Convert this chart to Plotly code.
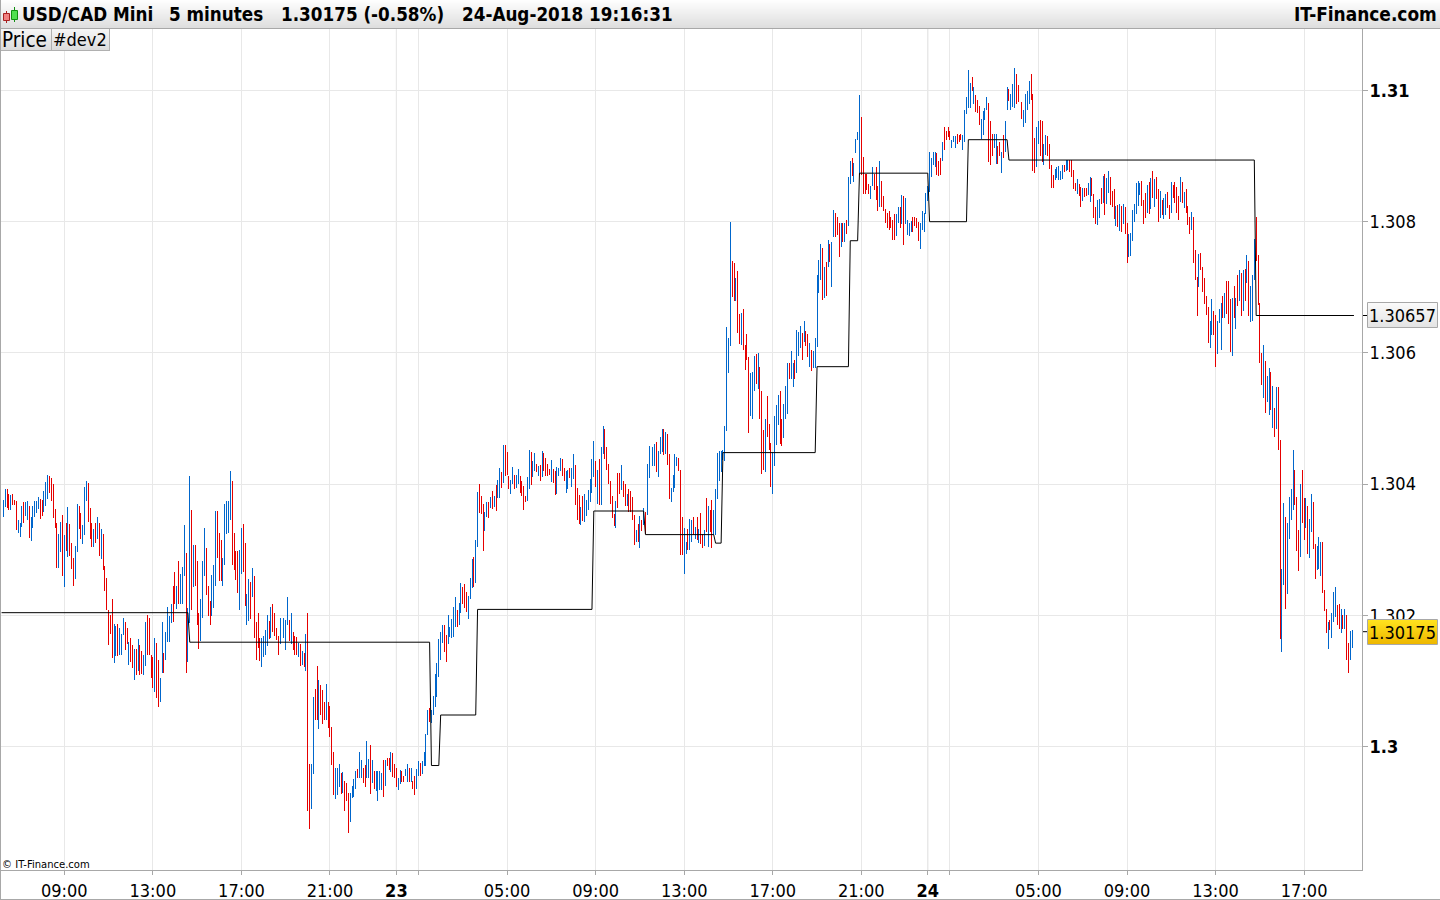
import numpy as np
import pandas as pd
import plotly.graph_objects as go

# USD/CAD 5-minute bars, expressed in points (1/100000) relative to 1.30000
BASE_PRICE = 1.30
POINT = 0.00001
FIRST_BAR = "2018-08-22 06:15"

HIGH_PTS = [
 376,392,392,385,383,385,376,374,346,340, 366,373,372,374,366,350,366,374,374,380,
 378,376,389,403,414,412,409,400,362,340, 324,342,353,322,340,365,339,310,287,306,
 370,366,356,338,395,405,402,363,340,331,
 340,350,340,331,324,275,257,208,200,225, 187,183,187,181,172,196,190,180,159,165,155,
 149,149,164,155,146,139,190,200,196,139,136, 165,158,132,104,190,142,175,212,199,217,
 245,266,245,283,263,273,338,295,211,412, 360,307,307,283,203,225,283,333,303,245,
 222,261,277,359,359,325,315,287,370,375, 375,420,405,325,298,298,300,
 333,339,310,232,255,251,272,260,190,203, 166,165,168,177,200,191,213,217,203,181,
 168,196,196,196,193,228,193,203,174,168, 167,158,156,145,142,171,203,
 -26,-27,76,88,123,101,94,86,68,95, 68,61,30,-8,-33,-33,-27,-40,-39,-53,
 -56,-71,-71,-60,-50,-37,-34,-8,-20,-33, -28,8,-19,2,-20,-37,-37,-37,-37,-40,
 -20,-20,-17,-17,-8,-10,-27,-33,-48,-36, -37,-45,-34,-27,-33,-33,-53,-45,-34,-22,
 -25,-22,-8,19,55,59,56,77,110,127, 164,175,185,185,170,200,182,
 195,212,228,208,218,250,243,247,235,229, 257,286,289,315,388,400,382,369,357,372,
 372,380,389,382,398,406,
 424,418,459,459,449,412,406,426,414,414, 423,412,405,397,382,411,452,449,435,447,
 430,427,429,450,447,440,430,423,437,423, 420,426,424,440,438,424,420,421,424,424,
 446,429,394,383,365,382,385,376,391,408, 438,466,435,421,438,456,488,484,456,430,
 405,382,354,374,417,417,429,405,400,385, 392,389,380,353,330,339,351,345,363,357,
 430,458,458,456,461,464,450,472,484,484, 479,476,446,394,414,446,441,440,421,350,
 333,311,331,347,345,350,335,350,332,356, 324,330,379,366,360,376,360,392,447,450,
 450,
 452,488,639,622,799,740,737,714,725,659, 661,667,612,629,594,569,571,595,598,600,
 578,542,482,500,534,491,462,449,504,520, 536,542,499,522,549,584,584,603,584,589,
 635,632,641,630,648,633,629,615,604,603, 622,718,741,766,760,731,738,772,766,769,
 818,
 814,807,798,798,798,798,803,868,892,897, 890,926,936,993,959,898,872,872,857,855,
 884,872,884,854,892,862,839,820,814,816, 807,802,811,811,823,823,840,839,836,803,
 798,801,807,807,805,799,798,816,814,843, 854,906,897,907,906,904,892,897,921,944,
 938,944,938,924,930,930,933,932,934,932, 971,990,1032,1011,1020,1005,993,985,977,956,
 968,974,990,981,953,933,933,933,915,921, 906,932,953,1006,1003,994,1010,1035,1025,1009,
 997,982,970,995,999,1015,1025,994,927,945, 953,955,953,918,932,930,918,887,871,881,
 884,
 885,877,886,886,894,894,894,894,879,859, 865,858,853,851,851,851,859,868,867,842,
 822,833,835,851,870,873,867,877,868,847, 850,824,826,827,824,827,822,798,781,783,
 818,827,859,862,859,862,833,844,856,861, 867,877,865,868,850,847,833,836,842,845,
 826,861,856,861,853,839,868,861,845,850, 824,807,815,807,757,716,751,752,731,714,
 687,670,649,682,664,658,649,667,676,687, 691,710,710,682,684,702,684,719,726,722,
 726,728,749,740,
 702,719,773,807,749,676,600,612,588,565, 577,571,549,516,548,548,
 467,270,371,350,340,380,392,452,421,380, 330,400,421,379,379,366,347,385,372,308,
 305,319,312,312,238,209,190,193,203,235, 243,215,217,209,200,209,200,158,176,177,
]

LOW_PTS = [
 350,365,364,360,360,368,368,330,326,320, 335,340,351,345,318,314,333,350,356,362,
 347,351,357,366,377,386,375,348,333,272, 272,296,260,243,298,289,290,270,245,255,
 296,332,316,309,322,374,342,316,304,304,
 310,316,290,286,269,237,208,155,172,135, 127,138,138,140,140,170,147,157,124,129,120,
 101,109,115,109,111,109,122,140,140,104,89, 83,74,60,68,112,112,132,159,159,188,
 190,217,209,217,217,217,260,112,129,188, 208,243,245,185,148,161,196,260,231,199,
 185,199,211,245,287,252,252,245,277,324, 325,345,277,269,254,234,208,
 263,266,214,185,191,194,228,165,132,150, 130,121,136,139,153,164,166,174,168,162,
 139,156,182,166,147,185,161,156,147,139, 139,136,123,124,121,115,-98,
 -126,-95,-42,40,40,27,48,34,40,40, 28,14,-28,-74,-80,-74,-61,-72,-71,-98,
 -83,-132,-115,-78,-77,-65,-48,-48,-48,-56, -62,-48,-48,-72,-56,-65,-68,-83,-66,-66,
 -77,-60,-30,-36,-39,-46,-48,-62,-66,-57, -54,-54,-45,-54,-54,-54,-65,-74,-65,-45,
 -45,-42,-30,-30,17,37,36,48,60,75, 106,132,158,144,129,156,167,
 166,167,182,182,185,203,217,211,205,194, 225,241,243,250,304,356,355,298,328,350,
 348,363,362,365,359,379,
 379,394,402,412,414,392,385,400,392,394, 400,386,382,360,373,374,392,398,411,420,
 418,412,405,411,420,412,412,414,403,402, 383,385,412,420,412,405,386,392,409,395,
 408,368,345,339,338,344,342,351,360,373, 386,411,395,370,368,368,446,438,421,400,
 370,348,336,333,363,385,391,380,366,366, 357,357,345,307,312,312,302,328,338,324,
 353,409,426,427,427,418,411,446,449,444, 446,429,377,373,388,394,427,420,292,292,
 263,293,299,299,312,322,316,315,310,309, 302,305,327,304,327,302,322,322,377,405,
 418,
 437,435,481,569,610,685,679,679,630,613, 612,604,574,589,478,504,500,542,552,545,
 499,415,421,418,472,452,395,385,427,459, 490,461,458,470,500,507,560,560,548,560,
 569,595,607,589,616,610,594,578,572,577, 577,609,691,711,680,683,686,731,738,700,
 776,
 777,779,746,762,769,769,782,793,857,869, 860,904,924,871,871,842,842,848,842,834,
 854,848,833,816,823,822,816,798,790,787, 790,772,772,778,798,790,796,764,796,780,
 778,785,785,793,790,770,759,787,785,811, 831,845,868,886,884,871,869,871,892,909,
 924,929,924,912,921,913,918,921,924,910, 921,964,973,973,999,979,967,965,947,926,
 932,955,970,891,886,900,912,888,888,900, 875,897,907,971,984,971,975,974,980,982,
 968,956,945,950,970,979,985,878,875,883, 918,900,891,886,901,900,881,851,851,863,
 866,
 864,864,865,876,877,879,876,868,850,847, 842,839,822,832,838,839,841,830,839,806,
 797,795,806,827,829,810,827,844,826,822, 804,793,792,786,784,797,781,737,746,748,
 771,800,812,824,841,824,797,806,813,812, 819,836,822,835,800,806,810,804,810,821,
 804,813,836,829,813,803,830,829,821,813, 795,781,787,737,711,656,701,726,693,675,
 658,615,608,627,627,579,599,646,604,653, 653,659,644,601,595,653,636,672,679,656,
 664,679,707,656,
 647,649,711,740,673,584,551,531,508,525, 505,513,486,472,484,452,
 164,144,246,209,232,316,345,360,368,298, 267,289,340,315,333,293,287,327,301,255,
 269,270,260,234,206,173,148,177,165,190, 197,185,179,173,179,179,132,112,132,150,
]

# b = rising bar, r = falling bar
DIRECTION = (
 "bbrrbrrrbb" "brbbrbbbbb" "rrbbbrrrrr" "bbrbrbrrrb" "brrbbbrrrb"
 "rbrbrrrrrr" "bbrbbbrrbrr" "brbrrbbrrrr" "brrbbrbbbb" "rrbrbbbrbb" "rbrrrbbbrr" "rbbbrrrbbb" "bbrrrrb"
 "brrbbrbrrr" "rbbbbrbrrr" "rbbbbbrbrr" "rbrbrbr" "rbbrrbrrrb" "rrrrbbbrbr" "rrbbbbrbbr" "rbbrbrbbbb"
 "rbrrbrrrbb" "rrbbrbrrbb" "rbbbbrbbbb" "bbbrrbb" "bbbrbbrrrb" "bbrbbrrrbb" "rbrbrb"
 "brbrrrbbrb" "brrrrbbrbb" "rbrbrrrrbr" "rbbbrrbbrb"
 "brrrbrbbbb" "bbrbrbbrrr" "rrrbrrbrrb" "rrrrbrbrbr"
 "bbrbbrbbbr" "brrbbbbrrr" "bbrbbrbrbr" "rbrbrrbbbb" "b"
 "bbbbbrrbrr" "brrrrbbbrb" "rrrbrrrbbb" "brrbbbrbbr" "bbbrbrrbrb" "bbbbrbrbrb" "b"
 "rrrbrbrbbr" "bbbbrrrrrb" "brrrbrrrrr" "rrrbbrbrbb" "bbrrrrbbbb" "bbbbbrrrbr"
 "rrrbbbrrrb" "bbbbrbrrrb" "bbbrrrbbrr" "brbbrbbbrr" "rrbbbbrrrb" "brrbbrrrrb"
 "b"
 "bbbrbbrrrr" "brrbrrbbrr" "rbbrbrbbrr" "rbrbrbrrbb" "bbbbbrrrbr" "brbrrbrbbr"
 "rbrrrrbrbr" "rrbrrrbrrr" "rrbbrrbbbr" "brrrbrbrbr" "brbr"
 "bbbrrrrbrb" "brbrbr"
 "rbbrbbbbrr" "rbrrbrbbrr" "bbbrrrbrbb" "brrbrbrrbb"
)

TICK_TIMES = ["2018-08-22 09:00", "2018-08-22 13:00", "2018-08-22 17:00", "2018-08-22 21:00",
              "2018-08-23 00:00", "2018-08-23 01:00", "2018-08-23 05:00", "2018-08-23 09:00",
              "2018-08-23 13:00", "2018-08-23 17:00", "2018-08-23 21:00", "2018-08-24 00:00",
              "2018-08-24 01:00", "2018-08-24 05:00", "2018-08-24 09:00", "2018-08-24 13:00",
              "2018-08-24 17:00"]
TICK_TEXT = ["09:00", "13:00", "17:00", "21:00", "<b>23</b>", "", "05:00", "09:00", "13:00", "17:00",
             "21:00", "<b>24</b>", "", "05:00", "09:00", "13:00", "17:00"]
DAY_TIMES = ["2018-08-23 00:00", "2018-08-24 00:00"]

PRICE_TICKS = [1.30, 1.302, 1.304, 1.306, 1.308, 1.31]
PRICE_TEXT = ["<b>1.3</b>", "1.302", "1.304", "1.306", "1.308", "<b>1.31</b>"]

# #dev2 level (points relative to 1.30000) and the bar at which it starts
DEV2_LEVEL = [204, 159, -29, 48, 209, 359, 323, 310, 448, 579, 771, 874, 800, 925, 894, 657]
DEV2_START = [0, 101, 232, 237, 257, 320, 348, 386, 390, 441, 459, 464, 502, 523, 545, 679]

LAST_PRICE = 1.30175
DEV2_LAST = 1.30657

n = len(HIGH_PTS)
assert n == len(LOW_PTS) == len(DIRECTION), (n, len(LOW_PTS), len(DIRECTION))

bar = pd.Timedelta(minutes=5)
times = pd.date_range(FIRST_BAR, periods=n, freq="5min")
high = BASE_PRICE + np.array(HIGH_PTS) * POINT
low = BASE_PRICE + np.array(LOW_PTS) * POINT
colors = ["#0066cc" if d == "b" else "#e60000" for d in DIRECTION]

lengths = np.diff(DEV2_START + [n])
dev2 = BASE_PRICE + np.repeat(DEV2_LEVEL, lengths) * POINT
# the #dev2 line begins one bar earlier and ends one bar later than the price bars
dev2_times = [times[0] - bar] + list(times) + [times[-1] + bar]
dev2_values = [dev2[0]] + list(dev2) + [dev2[-1]]

W, H = 1440, 900
PX_PER_BAR = 1.845
X0 = 3.4
PLOT_R, PLOT_T, PLOT_B = 1362, 29, 870
PX_PER_PRICE = 65600.0
Y_130 = 746.5


def xp(px):
    return px / W


def yp(py):
    return 1 - py / H


x_lo = pd.Timestamp(FIRST_BAR) + bar * ((0 - X0) / PX_PER_BAR)
x_hi = pd.Timestamp(FIRST_BAR) + bar * ((PLOT_R - X0) / PX_PER_BAR)
y_hi = 1.30 + (Y_130 - PLOT_T) / PX_PER_PRICE
y_lo = 1.30 - (PLOT_B - Y_130) / PX_PER_PRICE

fig = go.Figure()
fig.add_trace(go.Bar(x=times, base=low, y=high - low, width=bar.total_seconds() * 1000 * 0.54,
                     marker=dict(color=colors, line=dict(width=0)), hoverinfo="skip"))
fig.add_trace(go.Scatter(x=dev2_times, y=dev2_values, mode="lines",
                         line=dict(color="#000000", width=1), hoverinfo="skip"))

shapes = []


def rect(x0, y0, x1, y1, fill, line=None, layer="above"):
    shapes.append(dict(type="rect", xref="paper", yref="paper", x0=xp(x0), x1=xp(x1), y0=yp(y0), y1=yp(y1),
                       fillcolor=fill, line=dict(color=line or fill, width=1 if line else 0), layer=layer))


def hline(x0, x1, y, color):
    shapes.append(dict(type="line", xref="paper", yref="paper", x0=xp(x0), x1=xp(x1), y0=yp(y), y1=yp(y),
                       line=dict(color=color, width=1)))


def vline(x, y0, y1, color):
    shapes.append(dict(type="line", xref="paper", yref="paper", x0=xp(x), x1=xp(x), y0=yp(y0), y1=yp(y1),
                       line=dict(color=color, width=1)))


def gradient(x0, y0, x1, y1, top, bottom):
    rows = int(y1 - y0)
    for k in range(rows):
        f = k / max(rows - 1, 1)
        c = [round(a + (b - a) * f) for a, b in zip(top, bottom)]
        rect(x0, y0 + k, x1, y0 + k + 1, "rgb(%d,%d,%d)" % tuple(c))


# header bar
gradient(0, 0, W, 28, (254, 254, 254), (222, 222, 222))
hline(0, W, 28.5, "#a8a8a8")
# header icon
vline(6.5, 11, 23, "#a82020")
rect(3.5, 13.5, 9.5, 20.5, "#f08080", "#a82020")
vline(14.5, 7, 22, "#109010")
rect(11.5, 10.5, 17.5, 19.5, "#50e050", "#109010")
# indicator buttons
gradient(1, 29, 109, 50, (246, 246, 246), (220, 220, 220))
vline(51.5, 29, 50, "#b0b0b0")
vline(109.5, 29, 50, "#b0b0b0")
hline(1, 110, 50.5, "#b0b0b0")
# frame
vline(0.5, 0, H, "#a8a8a8")
hline(0, W, 899.5, "#a8a8a8")
# darker reference lines inside the plot
for t in DAY_TIMES:
    shapes.append(dict(type="line", xref="x", yref="paper", x0=t, x1=t, y0=yp(PLOT_B), y1=yp(PLOT_T),
                       line=dict(color="#d2d2d2", width=1), layer="below"))
for v in (1.30, 1.31):
    shapes.append(dict(type="line", xref="paper", yref="y", x0=0, x1=xp(PLOT_R), y0=v, y1=v,
                       line=dict(color="#d6d6d6", width=1), layer="below"))
# price boxes
gradient(1367.5, 303, 1437.5, 327, (250, 250, 250), (228, 228, 228))
rect(1367.5, 302.5, 1437.5, 327.5, "rgba(0,0,0,0)", "#a8a8a8")
gradient(1367.5, 620, 1437.5, 644, (255, 226, 30), (238, 184, 0))
rect(1367.5, 619.5, 1437.5, 644.5, "rgba(0,0,0,0)", "#a8a8a8")
for v in (DEV2_LAST, LAST_PRICE):
    shapes.append(dict(type="line", xref="paper", yref="y", x0=xp(PLOT_R + 1), x1=xp(1367), y0=v, y1=v,
                       line=dict(color="#000000", width=1)))

FONT = "DejaVu Sans Condensed, DejaVu Sans"
ann = []


def text(px, py, s, size=18, anchor="left", color="#000000", yref="paper", family=FONT):
    ann.append(dict(x=xp(px), y=yp(py) if yref == "paper" else py, xref="paper", yref=yref, text=s,
                    showarrow=False, xanchor=anchor, yanchor="middle", align=anchor,
                    font=dict(family=family, size=size, color=color), borderpad=0, borderwidth=0))


text(22, 14.5, "<b>USD/CAD Mini</b>", size=18.7)
text(169, 14.5, "<b>5 minutes</b>", size=18.7)
text(281, 14.5, "<b>1.30175 (-0.58%)</b>", size=18.7)
text(462, 14.5, "<b>24-Aug-2018 19:16:31</b>", size=18.7)
text(1437, 14.5, "<b>IT-Finance.com</b>", size=18.9, anchor="right")
text(2, 40, "Price", size=20.5)
text(53, 40, "#dev2")
text(2, 864, "© IT-Finance.com", size=10, family="DejaVu Sans")
text(1369, 315.5, "1.30657")
text(1369, 632.5, "1.30175")

fig.update_layout(
    width=W, height=H, margin=dict(l=0, r=0, t=0, b=0, pad=0, autoexpand=False),
    paper_bgcolor="#ffffff", plot_bgcolor="#ffffff", showlegend=False, bargap=0, hovermode=False,
    font=dict(family=FONT, size=18, color="#000000"),
    shapes=shapes, annotations=ann,
    xaxis=dict(type="date", domain=[0, xp(PLOT_R)], range=[x_lo, x_hi], tickmode="array",
               tickvals=TICK_TIMES, ticktext=TICK_TEXT, tickangle=0, ticks="outside", ticklen=4, tickwidth=1,
               tickcolor="#a8a8a8", showgrid=True, gridcolor="#e8e8e8", gridwidth=1,
               showline=True, linecolor="#a8a8a8", linewidth=1, zeroline=False, fixedrange=True,
               tickfont=dict(family=FONT, size=18, color="#000000")),
    yaxis=dict(domain=[yp(PLOT_B), yp(PLOT_T)], range=[y_lo, y_hi], side="right", tickmode="array",
               tickvals=PRICE_TICKS, ticktext=PRICE_TEXT, ticks="outside", ticklen=5, tickwidth=1,
               tickcolor="#a8a8a8", showgrid=True, gridcolor="#e8e8e8", gridwidth=1,
               showline=True, linecolor="#a8a8a8", linewidth=1, zeroline=False, fixedrange=True,
               ticklabelstandoff=-2,
               tickfont=dict(family=FONT, size=18, color="#000000")),
)

fig.write_html("out.html", config=dict(displayModeBar=False, staticPlot=True),
               post_script="document.body.style.margin='0';document.body.style.overflow='hidden';")
